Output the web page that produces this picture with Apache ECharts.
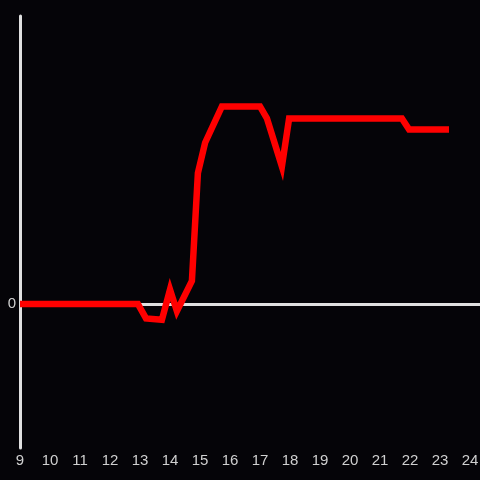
<!DOCTYPE html>
<html>
<head>
<meta charset="utf-8">
<script src="https://cdn.jsdelivr.net/npm/echarts@6/dist/echarts.min.js"></script>
<style>
  html, body { margin: 0; padding: 0; background: #050408; }
  #chart { width: 480px; height: 480px; }
</style>
</head>
<body>
<div id="chart"></div>
<script>
// hour of day and value
var hours  = [9, 12.93, 13.2, 13.73, 14.0, 14.23, 14.73, 14.93, 15.17, 15.73, 17.0, 17.23, 17.73, 17.97, 21.73, 21.97, 23.3];
var values = [0, 0, -0.1, -0.11, 0.1, -0.05, 0.16, 0.91, 1.12, 1.372, 1.372, 1.29, 0.955, 1.288, 1.288, 1.212, 1.212];
var xTicks = [9, 10, 11, 12, 13, 14, 15, 16, 17, 18, 19, 20, 21, 22, 23, 24];

var points = hours.map(function (h, i) { return [h, values[i]]; });

var chart = echarts.init(document.getElementById('chart'));
chart.setOption({
    backgroundColor: '#050408',
    animation: false,
    grid: { top: 16, bottom: 32, left: 20, right: 0, outerBoundsMode: 'none', containLabel: false },
    xAxis: {
        type: 'value',
        min: xTicks[0],
        max: 24.333,
        interval: 1,
        axisLine: { show: false, onZero: false },
        axisTick: { show: false },
        splitLine: { show: false },
        axisLabel: {
            color: '#d0d0d0',
            fontSize: 15,
            fontFamily: 'Liberation Sans',
            margin: 5,
            hideOverlap: false,
            formatter: function (v) { return xTicks.indexOf(v) >= 0 ? String(v) : ''; }
        }
    },
    yAxis: {
        type: 'value',
        min: -1,
        max: 2,
        interval: 1,
        axisLine: { show: true, lineStyle: { color: '#e0e0e0', width: 3 } },
        axisTick: { show: false },
        splitLine: { show: false },
        axisLabel: {
            color: '#d0d0d0',
            fontSize: 15,
            fontFamily: 'Liberation Sans',
            margin: 4,
            formatter: function (v) { return v === 0 ? '0' : ''; }
        }
    },
    series: [{
        type: 'line',
        data: points,
        symbol: 'none',
        lineStyle: { color: '#ff0000', width: 6.5, join: 'miter' },
        z: 3,
        markLine: {
            silent: true,
            symbol: 'none',
            label: { show: false },
            lineStyle: { color: '#e0e0e0', width: 3, type: 'solid' },
            data: [{ yAxis: 0 }],
            z: 1
        }
    }]
});
</script>
</body>
</html>
